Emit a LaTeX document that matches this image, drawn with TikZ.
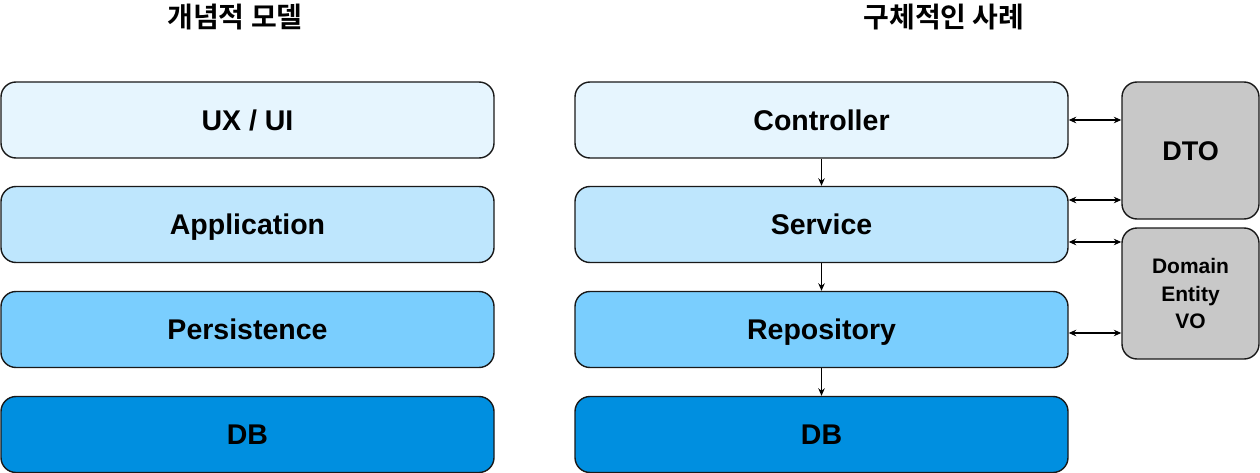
\documentclass[tikz,border=0pt]{standalone}
\usepackage{fontspec}
\setmainfont{Liberation Sans}
\newfontfamily\kr{Noto Sans CJK KR}[BoldFont={Noto Sans CJK KR Bold}]
\usetikzlibrary{arrows.meta,positioning}

\definecolor{uxcol}{HTML}{E6F5FE}
\definecolor{appcol}{HTML}{BEE6FD}
\definecolor{percol}{HTML}{7ACEFE}
\definecolor{dbcol}{HTML}{008FE0}
\definecolor{sidecol}{HTML}{C8C8C8}

\tikzset{
  layer/.style={draw=black!90, line width=1.4pt, rounded corners=15pt,
    minimum width=493pt, minimum height=76pt, inner sep=0pt,
    text height=20.4pt, text depth=0pt,
    font=\bfseries\fontsize{28.5}{32}\selectfont},
  sidebox/.style={draw=black!90, line width=1.4pt, rounded corners=15pt,
    fill=sidecol, minimum width=137pt, inner sep=0pt, align=center},
  link/.style={line width=1.3pt, -{Stealth[length=7.5pt,width=6.5pt]}},
  dlink/.style={line width=1.3pt, {Stealth[length=7.5pt,width=6.5pt]}-{Stealth[length=7.5pt,width=6.5pt]}}
}

\begin{document}
\begin{tikzpicture}[x=1pt,y=-1pt]

    \useasboundingbox (0,0) rectangle (1260,473);

    %titles
    \node (ltitle) at (235,17) {\kr\bfseries\fontsize{28}{32}\selectfont 개념적 모델};
    \node (rtitle) at (944,17) {\kr\bfseries\fontsize{28}{32}\selectfont 구체적인 사례};

    %conceptual model
    \node[layer, fill=uxcol]  (ux)  at (247.5,120)   {UX / UI};
    \node[layer, fill=appcol] (app) at (247.5,224.5) {Application};
    \node[layer, fill=percol] (per) at (247.5,329.5) {Persistence};
    \node[layer, fill=dbcol]  (ldb) at (247.5,434.5) {DB};

    %concrete example
    \node[layer, fill=uxcol]  (ctrl) at (821.5,120)   {Controller};
    \node[layer, fill=appcol] (svc)  at (821.5,224.5) {Service};
    \node[layer, fill=percol] (repo) at (821.5,329.5) {Repository};
    \node[layer, fill=dbcol]  (rdb)  at (821.5,434.5) {DB};

    \node[sidebox, minimum height=137pt, text height=19.3pt, text depth=0pt,
        font=\bfseries\fontsize{27}{32}\selectfont]
        (dto) at (1190.5,150.5) {DTO};
    \node[sidebox, minimum height=131pt, font=\bfseries\fontsize{21}{27.5}\selectfont]
        (dom) at (1190.5,293.5) {Domain\\Entity\\VO};

    %layer flow
    \draw[link] (ctrl) -- (svc);
    \draw[link] (svc) -- (repo);
    \draw[link] (repo) -- (rdb);

    %side links
    \draw[dlink] (ctrl.east) -- (ctrl.east -| dto.west);
    \draw[dlink] ([yshift=24.5pt]svc.east) -- ([yshift=24.5pt]svc.east -| dto.west);
    \draw[dlink] ([yshift=-17.5pt]svc.east) -- ([yshift=-17.5pt]svc.east -| dom.west);
    \draw[dlink] ([yshift=-3.5pt]repo.east) -- ([yshift=-3.5pt]repo.east -| dom.west);

\end{tikzpicture}
\end{document}
